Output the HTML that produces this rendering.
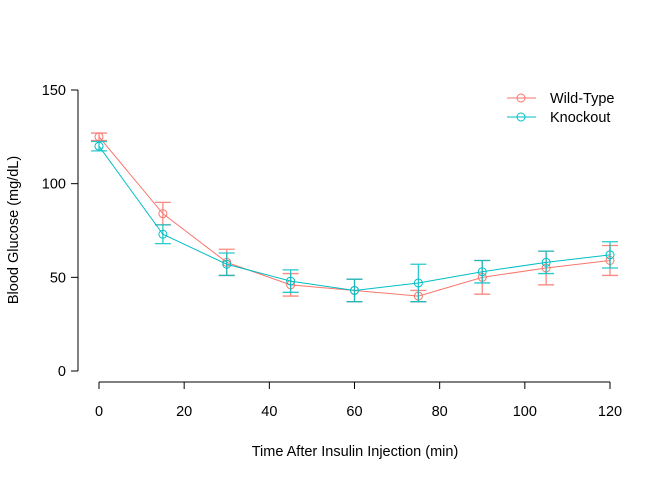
<!DOCTYPE html>
<html><head><meta charset="utf-8"><style>
body{margin:0;background:#fff}
svg{display:block;font-family:"Liberation Sans",Arial,sans-serif}
</style></head><body>
<svg id="c" width="672" height="480"></svg>
<script>
const times=[0,15,30,45,60,75,90,105,120];
const wtValues=[125,84,58,46,43,40,50,55,59];
const wtErr=[2,6,7,6,6,3,9,9,8];
const koValues=[120,73,57,48,43,47,53,58,62];
const koErr=[2.5,5,6,6,6,10,6,6,7];
const yTicks=[0,50,100,150];
const xTicks=[0,20,40,60,80,100,120];
const svg=document.getElementById('c');
const NS='http://www.w3.org/2000/svg';
const X=v=>99+v*(610-99)/120;
const Y=v=>371-v*(371-90)/150;
function el(t,a,p){const e=document.createElementNS(NS,t);for(const k in a)e.setAttribute(k,a[k]);(p||svg).appendChild(e);return e;}
const ax=el('g',{});


el('line',{x1:78,x2:78,y1:Y(0),y2:Y(150),stroke:'#000'},ax);
yTicks.forEach(t=>{el('line',{x1:71,x2:78,y1:Y(t),y2:Y(t),stroke:'#000'},ax);
 const tx=el('text',{x:66,y:Y(t)+5,'text-anchor':'end','font-size':14.5},ax);tx.textContent=t;
 
 });
el('line',{x1:X(0),x2:X(120),y1:382,y2:382,stroke:'#000'},ax);
xTicks.forEach(t=>{el('line',{x1:X(t),x2:X(t),y1:382,y2:389,stroke:'#000'},ax);
 const tx=el('text',{x:X(t),y:416,'text-anchor':'middle','font-size':14.5},ax);tx.textContent=t;
 
 });
let t=el('text',{x:355,y:456,'text-anchor':'middle','font-size':14.5});t.textContent='Time After Insulin Injection (min)';


t=el('text',{x:0,y:0,'text-anchor':'middle','font-size':14.5,transform:'translate(18,230) rotate(-90)'});t.textContent='Blood Glucose (mg/dL)';


function series(vals,errs,col,name){
 const g=el('g',{});
 
 
 el('polyline',{points:times.map((x,i)=>X(x)+','+Y(vals[i])).join(' '),fill:'none',stroke:col,'stroke-width':1},g);
 times.forEach((x,i)=>{
  const cx=X(x),lo=Y(vals[i]-errs[i]),hi=Y(vals[i]+errs[i]);
  const e=el('path',{d:`M${cx},${lo}V${hi}M${cx-8},${lo}H${cx+8}M${cx-8},${hi}H${cx+8}`,stroke:col,'stroke-width':1.3,fill:'none',opacity:0.85},g);
  
  
  const p=el('circle',{cx:cx,cy:Y(vals[i]),r:4,fill:'none',stroke:col},g);
  
  
 });
}
series(wtValues,wtErr,'#F8766D','wild-type');
series(koValues,koErr,'#00BFC4','knockout');
const lg=el('g',{});


[['Wild-Type','#F8766D',98],['Knockout','#00BFC4',117]].forEach(([n,c,y])=>{
 el('line',{x1:507,x2:536,y1:y,y2:y,stroke:c},lg);
 el('circle',{cx:521,cy:y,r:4,fill:'none',stroke:c},lg);
 const tx=el('text',{x:550,y:y+5,'font-size':14.5},lg);tx.textContent=n;
 
 
});
</script>
</body></html>
